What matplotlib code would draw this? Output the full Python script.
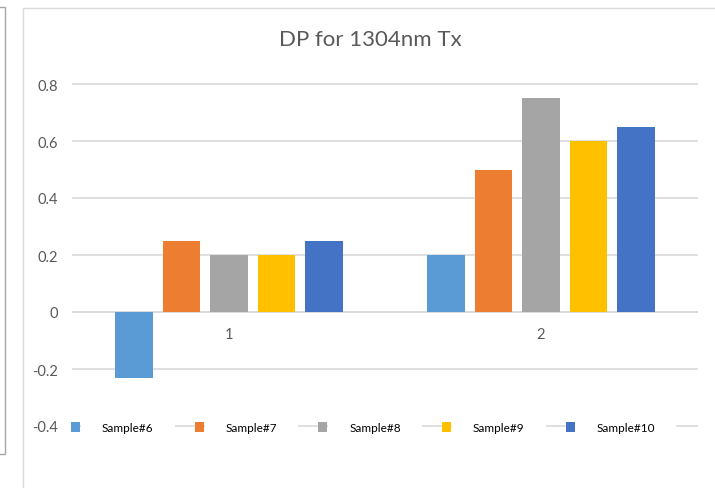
import numpy as np
import matplotlib
matplotlib.use("Agg")
import matplotlib.pyplot as plt
from matplotlib.patches import Rectangle

plt.rcParams['font.family'] = ['Lato', 'DejaVu Sans']

# ---- data ----
categories = ['1', '2']
series_names = ['Sample#6', 'Sample#7', 'Sample#8', 'Sample#9', 'Sample#10']
sample6 = [-0.23, 0.20]
sample7 = [0.25, 0.50]
sample8 = [0.20, 0.75]
sample9 = [0.20, 0.60]
sample10 = [0.25, 0.65]
series_values = [sample6, sample7, sample8, sample9, sample10]
colors = ['#5B9BD5', '#ED7D31', '#A5A5A5', '#FFC000', '#4472C4']
yticks = [-0.4, -0.2, 0.0, 0.2, 0.4, 0.6, 0.8]
ytick_labels = ['-0.4', '-0.2', '0', '0.2', '0.4', '0.6', '0.8']
title = 'DP for 1304nm Tx'

W, H = 715, 489
fig = plt.figure(figsize=(W / 100, H / 100), dpi=100)
fig.patch.set_facecolor('white')

# frames
fig.add_artist(Rectangle((-10 / W, 1 - 455 / H), 15.5 / W, 447 / H,
                         transform=fig.transFigure, fill=False,
                         edgecolor='#A6A6A6', lw=1))
fig.add_artist(Rectangle((22.5 / W, -0.1), 1.0, 1.1 - 8.5 / H,
                         transform=fig.transFigure, fill=False,
                         edgecolor='#D9D9D9', lw=1))

ax = fig.add_axes([73 / W, 1 - 427 / H, 624 / W, 342 / H])
ax.set_facecolor('none')

x = np.arange(1, len(categories) + 1)
step = 0.152
width = 0.12
handles = []
for i, (name, vals, col) in enumerate(zip(series_names, series_values, colors)):
    b = ax.bar(x + (i - 2) * step, vals, width, color=col, label=name, zorder=2,
               linewidth=0)
    handles.append(b)

ax.set_xlim(0.5, 2.5)
ax.set_ylim(-0.4, 0.8)
ax.set_yticks(yticks)
ax.set_yticklabels(ytick_labels)
ax.set_xticks(x)
ax.set_xticklabels(categories)

for s in ['top', 'right', 'left']:
    ax.spines[s].set_visible(False)
ax.spines['bottom'].set_position(('data', 0))
ax.spines['bottom'].set_color('#D9D9D9')
ax.spines['bottom'].set_linewidth(1.2)
ax.spines['bottom'].set_zorder(1)

ax.tick_params(axis='both', length=0, labelsize=10.5, labelcolor='#595959')
ax.tick_params(axis='y', pad=11)
ax.tick_params(axis='x', pad=11)
ax.yaxis.grid(True, color='#D9D9D9', lw=1.2, zorder=0)
ax.set_axisbelow(True)
for gl in ax.get_ygridlines():
    gl.set_clip_on(False)

fig.text(0.5 * (73 + 697) / W - 15 / W, 1 - 40 / H, title, ha='center', va='center',
         fontsize=16, color='#595959')

fs_pt = 8.5
fs_px = fs_pt * 100 / 72
leg = fig.legend(handles, series_names, ncol=5, frameon=False,
                 loc='center left', bbox_to_anchor=(71 / W, 1 - 428.5 / H),
                 bbox_transform=fig.transFigure,
                 borderpad=0, borderaxespad=0,
                 handlelength=9 / fs_px, handleheight=11 / fs_px,
                 handletextpad=22 / fs_px, columnspacing=41 / fs_px,
                 prop={'size': fs_pt})
for t in leg.get_texts():
    t.set_color('#000000')
    t.set_bbox(dict(boxstyle='square,pad=%.3f' % (21 / fs_px), fc='white', ec='none'))

fig.savefig('out.png', dpi=100)
